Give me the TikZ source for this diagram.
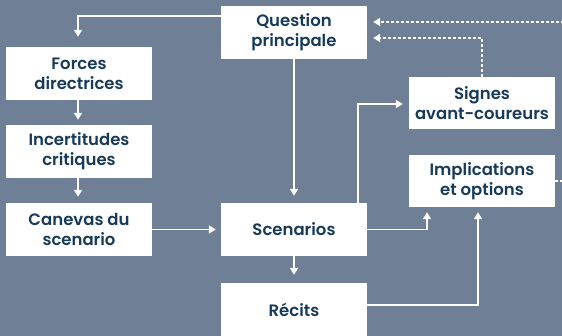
\documentclass[tikz,border=0pt]{standalone}
\usepackage{fontspec}
\setmainfont{Poppins}[UprightFont={* SemiBold}]
\usetikzlibrary{arrows.meta}
\definecolor{slate}{HTML}{6F7F96}
\definecolor{ink}{HTML}{173A5A}
\tikzset{
  box/.style={fill=white, draw=none, minimum width=146pt, minimum height=53pt,
    inner sep=0pt, align=center, text=ink,
    font=\fontsize{16.5}{20}\selectfont},
  flow/.style={draw=white, line width=1.8pt,
    -{Triangle[length=7pt,width=8pt]}},
  feedback/.style={flow, dash pattern=on 3pt off 2pt}
}
\begin{document}
\begin{tikzpicture}[x=1pt,y=1pt]
  \fill[slate] (0,0) rectangle (562,-336);
  \clip (0,0) rectangle (562,-336);
  % boxes
  \node[box] (Q) at (294,-32.5) {Question\\principale};
  \node[box] (F) at (79,-73.5) {Forces\\directrices};
  \node[box] (I) at (79,-151.5) {Incertitudes\\critiques};
  \node[box] (C) at (79,-229.5) {Canevas du\\scenario};
  \node[box] (S) at (294,-229.5) {Scenarios};
  \node[box] (R) at (294,-309.5) {Récits};
  \node[box, minimum height=52pt] (W) at (482,-103) {Signes\\avant-coureurs};
  \node[box, minimum height=52pt] (P) at (482,-181) {Implications\\et options};
  % main flow
  \draw[flow, shorten >=10pt] ([yshift=16.5pt]Q.west) -| ([xshift=-1pt]F.north);
  \draw[flow, shorten >=5pt] ([xshift=-1pt]F.south) -- ([xshift=-1pt]I.north);
  \draw[flow, shorten >=6pt] ([xshift=-1pt]I.south) -- ([xshift=-1pt]C.north);
  \draw[flow, shorten >=5pt] (C.east) -- (S.west);
  \draw[flow, shorten >=7pt] (Q.south) -- (S.north);
  \draw[flow, shorten >=8pt] (S.south) -- (R.north);
  \draw[flow, shorten >=6pt] ([xshift=64pt]S.north) |- ([yshift=-1pt]W.west);
  \draw[flow, shorten >=5pt] (S.east) -| ([xshift=-55pt]P.south);
  \draw[flow, shorten >=5pt] ([yshift=4.5pt]R.east) -| ([xshift=-4pt]P.south);
  % feedback loops
  \draw[feedback, shorten >=6pt] (W.north) |- ([yshift=-5.5pt]Q.east);
  \draw[feedback, shorten >=6pt] (P.east) -- ++(20pt,0) |- ([yshift=10.5pt]Q.east);
\end{tikzpicture}
\end{document}
